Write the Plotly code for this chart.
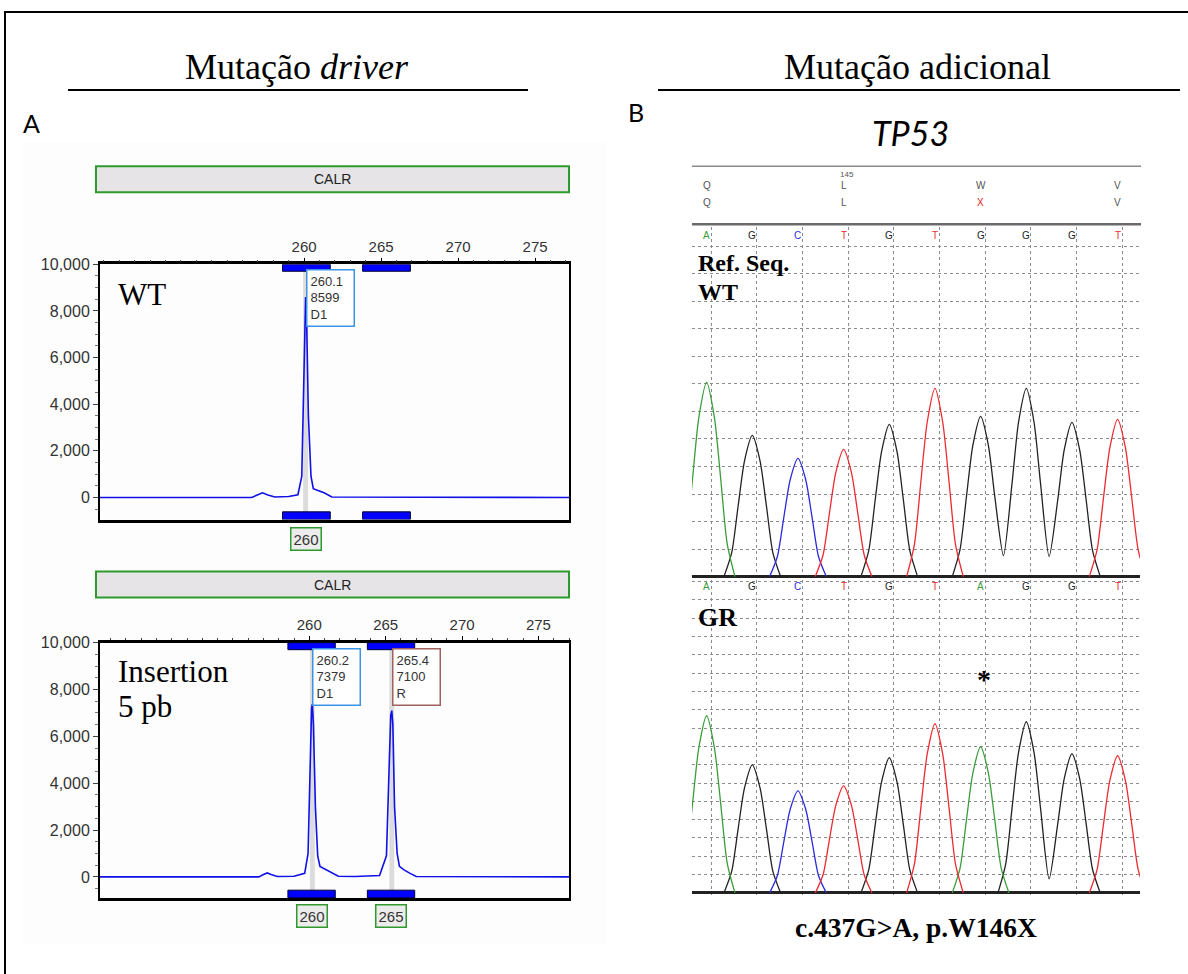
import plotly.graph_objects as go

W, H = 1188, 974
# empirical screen mapping of the paper area (top offset and effective height)
Y_OFF, H_EFF = 9.0, 965.0
def px(x): return x / W
def py(y): return 1 - (y - Y_OFF) / H_EFF

# ---------------- DATA ----------------
# Panel A : capillary electrophoresis of CALR (size in bp, signal in RFU)
WT_SIZE = [246.75, 256.6, 257.0, 257.3, 257.65, 258.1, 259.0, 259.6, 259.85, 259.97,
           260.05, 260.1, 260.16, 260.28, 260.45, 260.6, 260.9, 261.3, 261.8, 277.2]
WT_RFU = [0, 0, 120, 200, 110, 20, 40, 120, 900, 5000,
          8400, 8599, 7800, 3500, 900, 380, 300, 200, 20, 0]
WT_CALLS_SIZE = [260.1]
WT_CALLS_HEIGHT = [8599]
WT_CALLS_DYE = ["D1"]

INS_SIZE = [246.3, 256.7, 257.0, 257.25, 257.5, 257.9, 259.0, 259.7, 259.92, 260.07,
            260.15, 260.2, 260.27, 260.4, 260.55, 260.7, 261.0, 261.4, 261.9, 263.0,
            264.6, 265.05, 265.22, 265.33, 265.4, 265.47, 265.58, 265.75, 265.9, 266.2,
            266.6, 267.0, 277.0]
INS_RFU = [0, 0, 100, 170, 100, 20, 30, 150, 1000, 5500,
           7200, 7379, 6500, 3000, 900, 450, 350, 200, 30, 20,
           60, 900, 4500, 6900, 7100, 6500, 3000, 1000, 450, 300,
           150, 20, 0]
INS_CALLS_SIZE = [260.2, 265.4]
INS_CALLS_HEIGHT = [7379, 7100]
INS_CALLS_DYE = ["D1", "R"]

BIN_START = [258.6, 263.8]
BIN_END = [261.7, 266.9]
BIN_LABELS = ["260", "265"]
WT_BINS_CALLED = [True, False]
INS_BINS_CALLED = [True, True]

Y_TICKS = [0, 2000, 4000, 6000, 8000, 10000]
X_TICKS = [260, 265, 270, 275]

# Panel B : TP53 Sanger chromatograms (base index, relative signal)
BASE_POS = [0, 1, 2, 3, 4, 5, 6, 7, 8, 9]
REF_BASES = ["A", "G", "C", "T", "G", "T", "G", "G", "G", "T"]
REF_HEIGHT = [194, 141, 118, 127, 152, 188, 160, 188, 154, 157]
REF_VALLEY = [0, 0, 0, 0, 0, 0, 21, 20, 0]        # valley between same-base neighbours
GR_BASES = ["A", "G", "C", "T", "G", "T", "A", "G", "G", "T"]
GR_HEIGHT = [177, 128, 102, 107, 135, 169, 146, 171, 139, 137]
GR_VALLEY = [0, 0, 0, 0, 0, 0, 0, 14, 0]

AA_POS = [0, 3, 6, 9]
AA_REF = ["Q", "L", "W", "V"]
AA_MUT = ["Q", "L", "X", "V"]
AA_NUMBER = {3: "145"}

# ---------------- STYLE ----------------
CE_BLUE = "#1010e8"
BASE_COL = {"A": "#3a9d3a", "C": "#2b2bdd", "G": "#222222", "T": "#ec2a30"}
SANS = "Arial, Liberation Sans, sans-serif"
SERIF = "Times New Roman, Liberation Serif, serif"
CALIBRI = "Lato, Open Sans, sans-serif"
# peak outline used to draw each base call (offset from call, fraction of height)
FLANK_OFF = [0.62, 0.45, 0.31, 0.17]
FLANK_FR = [0.0, 0.17, 0.5, 0.82]

fig = go.Figure()

# ---- CE traces ----
fig.add_trace(go.Scatter(x=WT_SIZE, y=WT_RFU, mode="lines",
                         line=dict(color=CE_BLUE, width=1.6), xaxis="x", yaxis="y"))
fig.add_trace(go.Scatter(x=INS_SIZE, y=INS_RFU, mode="lines",
                         line=dict(color=CE_BLUE, width=1.6), xaxis="x2", yaxis="y2"))

# ---- chromatogram traces ----
def chrom_xy(bases, heights, valley, ch):
    xs, ys = [], []
    n = len(bases)
    for i in range(n):
        if bases[i] != ch:
            continue
        p, h = BASE_POS[i], heights[i]
        prev_same = i > 0 and bases[i - 1] == ch
        next_same = i < n - 1 and bases[i + 1] == ch
        for o, f in zip(FLANK_OFF, FLANK_FR):
            if prev_same and o > 0.4:
                continue
            xs.append(p - o); ys.append(h * f)
        xs.append(p); ys.append(h)
        for o, f in zip(FLANK_OFF[::-1], FLANK_FR[::-1]):
            if next_same and o > 0.4:
                continue
            xs.append(p + o); ys.append(h * f)
        if next_same:
            xs.append(p + 0.5); ys.append(valley[i])
        else:
            xs.append(None); ys.append(None)
    return xs, ys

for bases, heights, valley, xa, ya in [(REF_BASES, REF_HEIGHT, REF_VALLEY, "x3", "y3"),
                                       (GR_BASES, GR_HEIGHT, GR_VALLEY, "x4", "y4")]:
    for ch in ["G", "A", "C", "T"]:
        xs, ys = chrom_xy(bases, heights, valley, ch)
        if not xs:
            continue
        fig.add_trace(go.Scatter(x=xs, y=ys, mode="lines",
                                 line=dict(color=BASE_COL[ch], width=1.3, shape="spline", smoothing=0.7),
                                 connectgaps=False, xaxis=xa, yaxis=ya))

shapes = []
ann = []

# very faint background of panel A screenshot
shapes.append(dict(type="rect", xref="paper", yref="paper", x0=px(22), x1=px(606), y0=py(945), y1=py(143),
                   fillcolor="#fdfdfd", line=dict(width=0), layer="below"))
# outer frame and title rules
shapes.append(dict(type="rect", xref="paper", yref="paper", x0=px(5), x1=px(1195), y0=py(13), y1=py(990),
                   line=dict(color="black", width=2)))
for x0, x1 in [(68, 528), (658, 1180)]:
    shapes.append(dict(type="line", xref="paper", yref="paper", x0=px(x0), x1=px(x1), y0=py(91), y1=py(91),
                       line=dict(color="black", width=2)))

ann.append(dict(text="Mutação <i>driver</i>", x=px(297), y=py(68), font=dict(family=SERIF, size=36, color="black")))
ann.append(dict(text="Mutação adicional", x=px(917), y=py(68), font=dict(family=SERIF, size=36, color="black")))
ann.append(dict(text="A", x=px(31), y=py(124), font=dict(family=CALIBRI, size=25, color="black")))
ann.append(dict(text="B", x=px(636), y=py(113), font=dict(family=CALIBRI, size=25, color="black")))
ann.append(dict(text="<i>TP53</i>", x=px(910), y=py(133), font=dict(family=CALIBRI, size=34, color="black")))

# ---- CE panels ----
CE_PANELS = [
    dict(xa="x", ya="y", top=265, bot=520, hdr=(167, 193), label=["WT"], label_y=[295],
         calls=(WT_CALLS_SIZE, WT_CALLS_HEIGHT, WT_CALLS_DYE), called=WT_BINS_CALLED, binlab_y=539),
    dict(xa="x2", ya="y2", top=643, bot=898, hdr=(572, 598), label=["Insertion", "5 pb"], label_y=[672, 707],
         calls=(INS_CALLS_SIZE, INS_CALLS_HEIGHT, INS_CALLS_DYE), called=INS_BINS_CALLED, binlab_y=916),
]
YMIN = {"y": -944, "y2": -897}
BOX_COL = {"D1": "#3b93e6", "R": "#a0605e"}

for P in CE_PANELS:
    xa, ya = P["xa"], P["ya"]
    ymin = YMIN[ya]
    shapes.append(dict(type="rect", xref="paper", yref="paper", x0=px(96), x1=px(569),
                       y0=py(P["hdr"][1]), y1=py(P["hdr"][0]), fillcolor="#e6e4e6",
                       line=dict(color="#2e9a2e", width=2)))
    ann.append(dict(text="CALR", x=px(332), y=py((P["hdr"][0] + P["hdr"][1]) / 2),
                    font=dict(family=SANS, size=14, color="#222")))
    sizes, heights, dyes = P["calls"]
    for s in sizes:
        shapes.append(dict(type="rect", xref=xa, yref=ya, x0=s - 0.16, x1=s + 0.16, y0=ymin, y1=10000,
                           fillcolor="#dcdcdc", line=dict(width=0), layer="below"))
    for b0, b1, lab, called in zip(BIN_START, BIN_END, BIN_LABELS, P["called"]):
        shapes.append(dict(type="rect", xref=xa, yref=ya, x0=b0, x1=b1, y0=10000 - 300, y1=10000,
                           fillcolor="#0000ff", line=dict(color="#000033", width=1)))
        shapes.append(dict(type="rect", xref=xa, yref=ya, x0=b0, x1=b1, y0=ymin, y1=ymin + 330,
                           fillcolor="#0000ff", line=dict(color="#000033", width=1)))
        if called:
            ann.append(dict(text=lab, xref=xa, yref="paper", x=(b0 + b1) / 2, y=py(P["binlab_y"]),
                            font=dict(family=SANS, size=15, color="#333"), bgcolor="#ececec",
                            bordercolor="#2e9a2e", borderwidth=1.5, borderpad=2))
    for s, h, d in zip(sizes, heights, dyes):
        ann.append(dict(text=f"{s}<br>{h}<br>{d}", xref=xa, yref=ya, x=s, y=9780, xanchor="left", yanchor="top",
                        align="left", font=dict(family=SANS, size=13, color="#333"), bgcolor="white",
                        bordercolor=BOX_COL[d], borderwidth=1.5, borderpad=3, width=40))
    for t, yy in zip(P["label"], P["label_y"]):
        ann.append(dict(text=t, x=px(116), y=py(yy), xanchor="left",
                        font=dict(family=SERIF, size=31, color="black")))

# ---- chromatogram decorations ----
shapes.append(dict(type="line", xref="paper", yref="paper", x0=px(692), x1=px(1141), y0=py(167), y1=py(167),
                   line=dict(color="#8a8a8a", width=1.5)))
shapes.append(dict(type="line", xref="paper", yref="paper", x0=px(692), x1=px(1141), y0=py(225), y1=py(225),
                   line=dict(color="#6a6a6a", width=2.5)))
for p, a, m in zip(AA_POS, AA_REF, AA_MUT):
    ann.append(dict(text=a, xref="x3", yref="paper", x=p, y=py(186),
                    font=dict(family=SANS, size=10, color="#555")))
    ann.append(dict(text=m, xref="x3", yref="paper", x=p, y=py(203),
                    font=dict(family=SANS, size=10, color="#e02020" if m != a else "#555")))
    if p in AA_NUMBER:
        ann.append(dict(text=AA_NUMBER[p], xref="x3", yref="paper", x=p + 0.08, y=py(175),
                        font=dict(family=SANS, size=8, color="#555")))
for bases, yy, xa in [(REF_BASES, 236, "x3"), (GR_BASES, 587, "x4")]:
    for p, b in zip(BASE_POS, bases):
        ann.append(dict(text=b, xref=xa, yref="paper", x=p, y=py(yy),
                        font=dict(family=SANS, size=10, color=BASE_COL[b])))

ann.append(dict(text="<b>Ref. Seq.</b>", x=px(696), y=py(264), xanchor="left",
                font=dict(family=SERIF, size=24, color="black")))
ann.append(dict(text="<b>WT</b>", x=px(696), y=py(293), xanchor="left",
                font=dict(family=SERIF, size=24, color="black")))
ann.append(dict(text="<b>GR</b>", x=px(696), y=py(618), xanchor="left",
                font=dict(family=SERIF, size=26, color="black")))
ann.append(dict(text="<b>*</b>", xref="x4", yref="paper", x=6.08, y=py(680),
                font=dict(family=SERIF, size=28, color="black")))
ann.append(dict(text="<b>c.437G>A, p.W146X</b>", x=px(916), y=py(928),
                font=dict(family=SERIF, size=27.5, color="black")))

for a in ann:
    a.setdefault("xref", "paper")
    a.setdefault("yref", "paper")
    a.setdefault("xanchor", "center")
    a.setdefault("yanchor", "middle")
    a.setdefault("showarrow", False)

# ---- axes ----
def ce_x(dom_range):
    return dict(domain=[px(100), px(569)], range=dom_range, side="top", showline=True, linecolor="black",
                linewidth=2.5, mirror=True, ticks="outside", ticklen=4, tickcolor="black",
                tickvals=X_TICKS, tickfont=dict(family=SANS, size=15, color="#333"),
                minor=dict(dtick=1, ticks="outside", ticklen=2, tickcolor="#444"),
                showgrid=False, zeroline=False, fixedrange=True)

def ce_y(dom, ymin):
    return dict(domain=dom, range=[ymin, 10000], showline=True, linecolor="black", linewidth=2,
                mirror=True, ticks="outside", ticklen=5, tickcolor="#444", tickvals=Y_TICKS,
                tickformat=",", tickfont=dict(family=SANS, size=16, color="#333"),
                minor=dict(dtick=500, ticks="outside", ticklen=3, tickcolor="#777"),
                showgrid=False, zeroline=False)

def ch_x(anchor):
    return dict(domain=[px(692), px(1140)], range=[-0.32, 9.49], anchor=anchor, showgrid=True,
                griddash="dot", gridcolor="#8c8c8c", gridwidth=1,
                tickvals=[p + 0.1 for p in BASE_POS], showticklabels=False, ticks="",
                zeroline=False, showline=False)

def ch_y(dom, top, step, anchor):
    return dict(domain=dom, range=[-2, top], anchor=anchor, showgrid=True, griddash="dot",
                gridcolor="#8c8c8c", gridwidth=1, tick0=0, dtick=step, showticklabels=False,
                ticks="", zeroline=True, zerolinecolor="#222", zerolinewidth=3, showline=False)

fig.update_layout(
    width=W, height=H, margin=dict(l=0, r=0, t=0, b=0),
    paper_bgcolor="white", plot_bgcolor="white", showlegend=False,
    xaxis=dict(ce_x([246.75, 277.2]), anchor="y"),
    yaxis=dict(ce_y([py(520), py(265)], -944), anchor="x"),
    xaxis2=dict(ce_x([246.3, 277.0]), anchor="y2"),
    yaxis2=dict(ce_y([py(898), py(643)], -897), anchor="x2"),
    xaxis3=ch_x("y3"),
    yaxis3=ch_y([py(579), py(228)], 349, 27.5, "x3"),
    xaxis4=ch_x("y4"),
    yaxis4=ch_y([py(895), py(580)], 313, 18.3, "x4"),
    shapes=shapes, annotations=ann,
)

fig.write_html("out.html")
